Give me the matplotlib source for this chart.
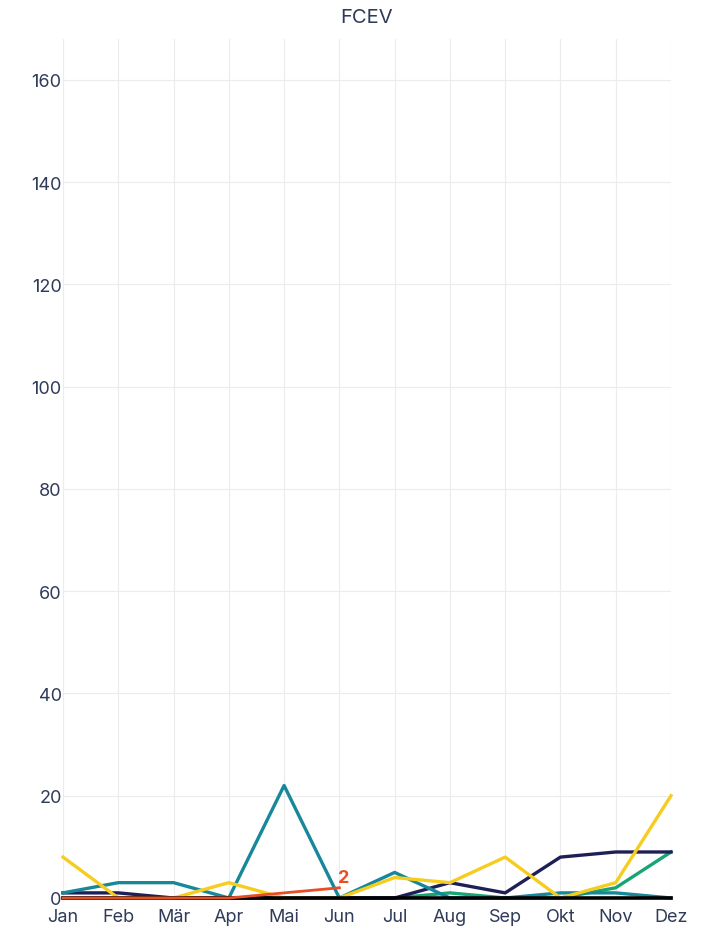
import matplotlib
matplotlib.use("Agg")
import matplotlib.pyplot as plt

months = ["Jan", "Feb", "Mär", "Apr", "Mai", "Jun", "Jul", "Aug", "Sep", "Okt", "Nov", "Dez"]

teal = [1, 3, 3, 0, 22, 0, 5, 0, 0, 1, 1, 0]
yellow = [8, 0, 0, 3, 0, 0, 4, 3, 8, 0, 3, 20]
navy = [1, 1, 0, 0, 0, 0, 0, 3, 1, 8, 9, 9]
green = [0, 0, 0, 0, 0, 0, 0, 1, 0, 0, 2, 9]
orange = [0, 0, 0, 0, 1, 2]
black = [0] * 12

yticks = [0, 20, 40, 60, 80, 100, 120, 140, 160]

plt.rcParams["font.family"] = ["Inter", "DejaVu Sans"]
text_color = "#2f3b58"

fig = plt.figure(figsize=(7.1, 9.29), dpi=100)
ax = fig.add_axes([63 / 710, 30 / 929, 608 / 710, 859 / 929])

x = list(range(len(months)))
lw = 2.4
ax.plot(x, green, color="#17a576", lw=lw, zorder=3, clip_on=False)
ax.plot(x, navy, color="#1e1f56", lw=lw, zorder=4, clip_on=False)
ax.plot(x, teal, color="#17879a", lw=lw, zorder=5, clip_on=False)
ax.plot(x, yellow, color="#f6cd1e", lw=lw, zorder=6, clip_on=False)
ax.plot(x, black, color="#000000", lw=2.6, zorder=7, clip_on=False)
ax.plot(x[:len(orange)], orange, color="#e84e26", lw=2.0, zorder=8, clip_on=False)

ax.annotate(str(orange[-1]), (x[len(orange) - 1], orange[-1]), xytext=(-1, 1),
            textcoords="offset points", color="#e84e26", fontsize=13,
            fontweight="bold", ha="left", va="bottom")

ax.set_xlim(0, len(months) - 1)
ax.set_ylim(0, 168)
ax.set_xticks(x)
ax.set_xticklabels(months)
ax.set_yticks(yticks)
ax.tick_params(axis="both", length=0, labelsize=13, colors=text_color)
ax.tick_params(axis="x", pad=7)
ax.tick_params(axis="y", pad=1)
ax.grid(True, color="#ececec", lw=0.8)
ax.set_axisbelow(True)
for s in ax.spines.values():
    s.set_visible(False)

fig.text(367 / 710, 1 - 18 / 929, "FCEV", ha="center", va="center",
         fontsize=14.5, color=text_color)

fig.savefig("out.png", dpi=100, facecolor="white")
